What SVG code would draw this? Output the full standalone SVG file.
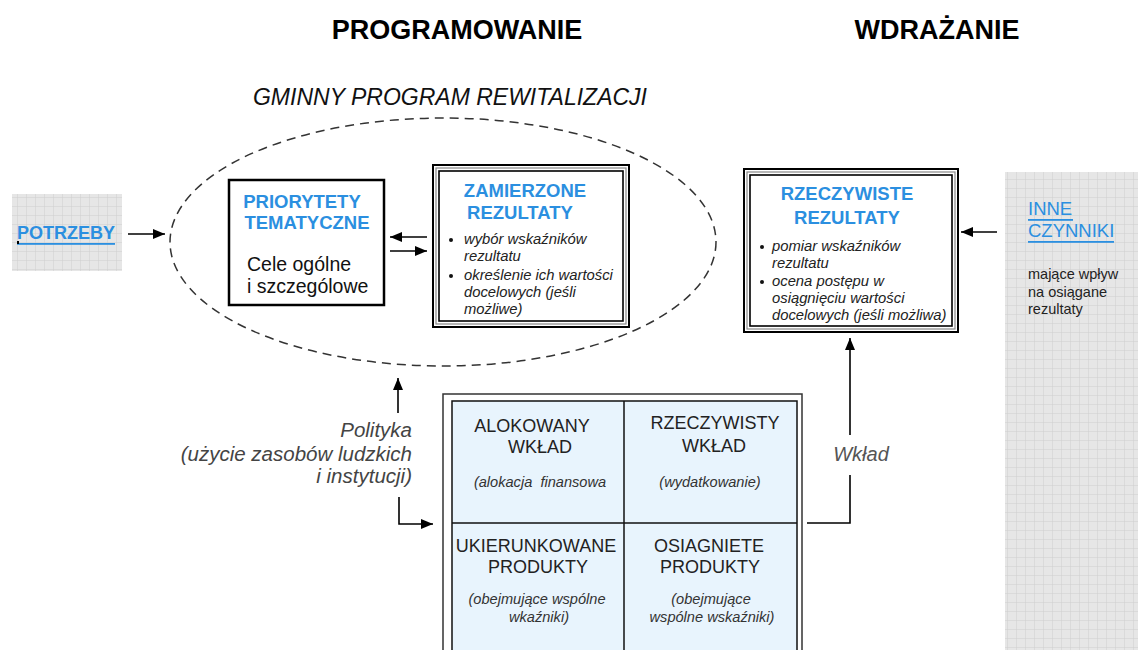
<svg xmlns="http://www.w3.org/2000/svg" width="1138" height="650" viewBox="0 0 1138 650">
<defs>
<pattern id="grid" width="9" height="9" patternUnits="userSpaceOnUse">
<rect width="9" height="9" fill="#e6e6e6"/>
<path d="M9 0V9M0 9H9" stroke="#cfcfcf" stroke-width="1" fill="none"/>
</pattern>
<marker id="ahl" viewBox="0 0 12 10" refX="12" refY="5" markerWidth="12" markerHeight="10" markerUnits="userSpaceOnUse" orient="auto">
<path d="M0 0L12 5L0 10z" fill="#000"/>
</marker>
</defs>
<style>
text{font-family:"Liberation Sans",Arial,sans-serif}
.hd{font-size:27px;font-weight:bold;fill:#000}
.blue{fill:#2b8fe0;font-weight:bold;font-size:18.5px}
.link{fill:#2b8fe0;font-size:18.5px}
.it{font-style:italic;font-size:14.8px;fill:#222}
.cell{font-size:18px;fill:#222}
.small{font-style:italic;font-size:14.6px;fill:#333}
.gray{font-style:italic;font-size:20.5px;fill:#444}
.ln{stroke:#000;stroke-width:1.6;fill:none}
.box{fill:#fff;stroke:#000}
</style>

<text class="hd" x="457" y="39" text-anchor="middle">PROGRAMOWANIE</text>
<text class="hd" x="937" y="39" text-anchor="middle">WDRAŻANIE</text>
<text x="450" y="105" text-anchor="middle" style="font-style:italic;font-size:23px;fill:#111">GMINNY PROGRAM REWITALIZACJI</text>

<g id="program">
<ellipse cx="443" cy="242" rx="273" ry="124" fill="none" stroke="#333" stroke-width="1.5" stroke-dasharray="9,6"/>
</g>

<g id="potrzeby">
<rect x="12" y="194" width="110" height="77" fill="url(#grid)"/>
<text class="link" x="17" y="239" style="font-weight:bold;font-size:18px">POTRZEBY</text>
<rect x="17" y="243" width="98" height="1.8" fill="#2b8fe0"/>
<rect x="17" y="241" width="2" height="3" fill="#000"/>
</g>

<g id="priorytety">
<rect class="box" x="229" y="180" width="155" height="125" stroke-width="2.5"/>
<text class="blue" x="302" y="208" text-anchor="middle">PRIORYTETY</text>
<text class="blue" x="307" y="229" text-anchor="middle">TEMATYCZNE</text>
<text x="247" y="271" style="font-size:19.5px;fill:#111">Cele ogólne</text>
<text x="247" y="293" style="font-size:19.5px;fill:#111">i szczególowe</text>
</g>

<g id="zamierzone">
<rect x="433" y="165" width="196" height="162" fill="#fff" stroke="#000" stroke-width="2"/>
<rect x="436" y="168" width="190" height="156" fill="none" stroke="#888" stroke-width="1.2"/>
<rect x="439" y="171" width="184" height="150" fill="none" stroke="#000" stroke-width="1.6"/>
<text class="blue" x="525" y="197" text-anchor="middle">ZAMIERZONE</text>
<text class="blue" x="520" y="219" text-anchor="middle">REZULTATY</text>
<circle cx="451" cy="240" r="2" fill="#111"/>
<text class="it" x="464" y="244">wybór wskaźników</text>
<text class="it" x="464" y="261">rezultatu</text>
<circle cx="451" cy="276" r="2" fill="#111"/>
<text class="it" x="464" y="280">określenie ich wartości</text>
<text class="it" x="464" y="297">docelowych (jeśli</text>
<text class="it" x="464" y="314">możliwe)</text>
</g>

<g id="rzeczywiste">
<rect x="744" y="169" width="214" height="163" fill="#fff" stroke="#000" stroke-width="2"/>
<rect x="747" y="172" width="208" height="157" fill="none" stroke="#888" stroke-width="1.2"/>
<rect x="750" y="175" width="202" height="151" fill="none" stroke="#000" stroke-width="1.6"/>
<text class="blue" x="847" y="200" text-anchor="middle">RZECZYWISTE</text>
<text class="blue" x="847" y="224" text-anchor="middle">REZULTATY</text>
<circle cx="762" cy="247" r="2" fill="#111"/>
<text class="it" x="772" y="251">pomiar wskaźników</text>
<text class="it" x="772" y="268">rezultatu</text>
<circle cx="762" cy="282" r="2" fill="#111"/>
<text class="it" x="772" y="286">ocena postępu w</text>
<text class="it" x="772" y="303">osiągnięciu wartości</text>
<text class="it" x="772" y="320">docelowych (jeśli możliwa)</text>
</g>

<g id="inne">
<rect x="1005" y="172" width="133" height="478" fill="url(#grid)"/>
<text class="link" x="1028" y="215">INNE</text>
<rect x="1028" y="219" width="45" height="1.8" fill="#2b8fe0"/>
<text class="link" x="1028" y="237">CZYNNIKI</text>
<rect x="1028" y="241" width="86" height="1.8" fill="#2b8fe0"/>
<text x="1028" y="279" style="font-size:14.5px;fill:#222">mające wpływ</text>
<text x="1028" y="297" style="font-size:14.5px;fill:#222">na osiągane</text>
<text x="1028" y="314" style="font-size:14.5px;fill:#222">rezultaty</text>
</g>

<g id="wklad-grid">
<rect x="443" y="394" width="359" height="270" fill="#fff" stroke="#333" stroke-width="1.5"/>
<rect x="452" y="401" width="345" height="260" fill="#e8f4fd" stroke="#111" stroke-width="1.5"/>
<line x1="624" y1="401" x2="624" y2="650" stroke="#111" stroke-width="1.5"/>
<line x1="452" y1="523" x2="797" y2="523" stroke="#111" stroke-width="1.5"/>
<text class="cell" x="532" y="432" text-anchor="middle">ALOKOWANY</text>
<text class="cell" x="540" y="453" text-anchor="middle">WKŁAD</text>
<text class="small" x="540" y="487" text-anchor="middle">(alokacja&#160; finansowa</text>
<text class="cell" x="715" y="429" text-anchor="middle">RZECZYWISTY</text>
<text class="cell" x="714" y="452" text-anchor="middle">WKŁAD</text>
<text class="small" x="710" y="487" text-anchor="middle">(wydatkowanie)</text>
<text class="cell" x="536" y="552" text-anchor="middle">UKIERUNKOWANE</text>
<text class="cell" x="538" y="573" text-anchor="middle">PRODUKTY</text>
<text class="small" x="537" y="604" text-anchor="middle">(obejmujące wspólne</text>
<text class="small" x="539" y="622" text-anchor="middle">wkaźniki)</text>
<text class="cell" x="709" y="552" text-anchor="middle">OSIAGNIETE</text>
<text class="cell" x="710" y="573" text-anchor="middle">PRODUKTY</text>
<text class="small" x="711" y="604" text-anchor="middle">(obejmujące</text>
<text class="small" x="712" y="622" text-anchor="middle">wspólne wskaźniki)</text>
</g>

<g id="labels">
<text class="gray" x="412" y="437" text-anchor="end">Polityka</text>
<text class="gray" x="412" y="461" text-anchor="end">(użycie zasobów ludzkich</text>
<text class="gray" x="412" y="483" text-anchor="end">i instytucji)</text>
<text x="861" y="461" text-anchor="middle" style="font-style:italic;font-size:20px;fill:#555">Wkład</text>
</g>

<g id="connectors">
<line class="ln" x1="128" y1="234" x2="165" y2="234" marker-end="url(#ahl)"/>
<line class="ln" x1="427" y1="237" x2="390" y2="237" marker-end="url(#ahl)"/>
<line class="ln" x1="390" y1="251" x2="427" y2="251" marker-end="url(#ahl)"/>
<line class="ln" x1="997" y1="232" x2="961" y2="232" marker-end="url(#ahl)"/>
<line class="ln" x1="398" y1="413" x2="398" y2="378" marker-end="url(#ahl)"/>
<polyline class="ln" points="399,497 399,524 433,524" marker-end="url(#ahl)"/>
<polyline class="ln" points="807,523 850,523 850,475"/>
<line class="ln" x1="850" y1="435" x2="850" y2="338" marker-end="url(#ahl)"/>
</g>
</svg>
